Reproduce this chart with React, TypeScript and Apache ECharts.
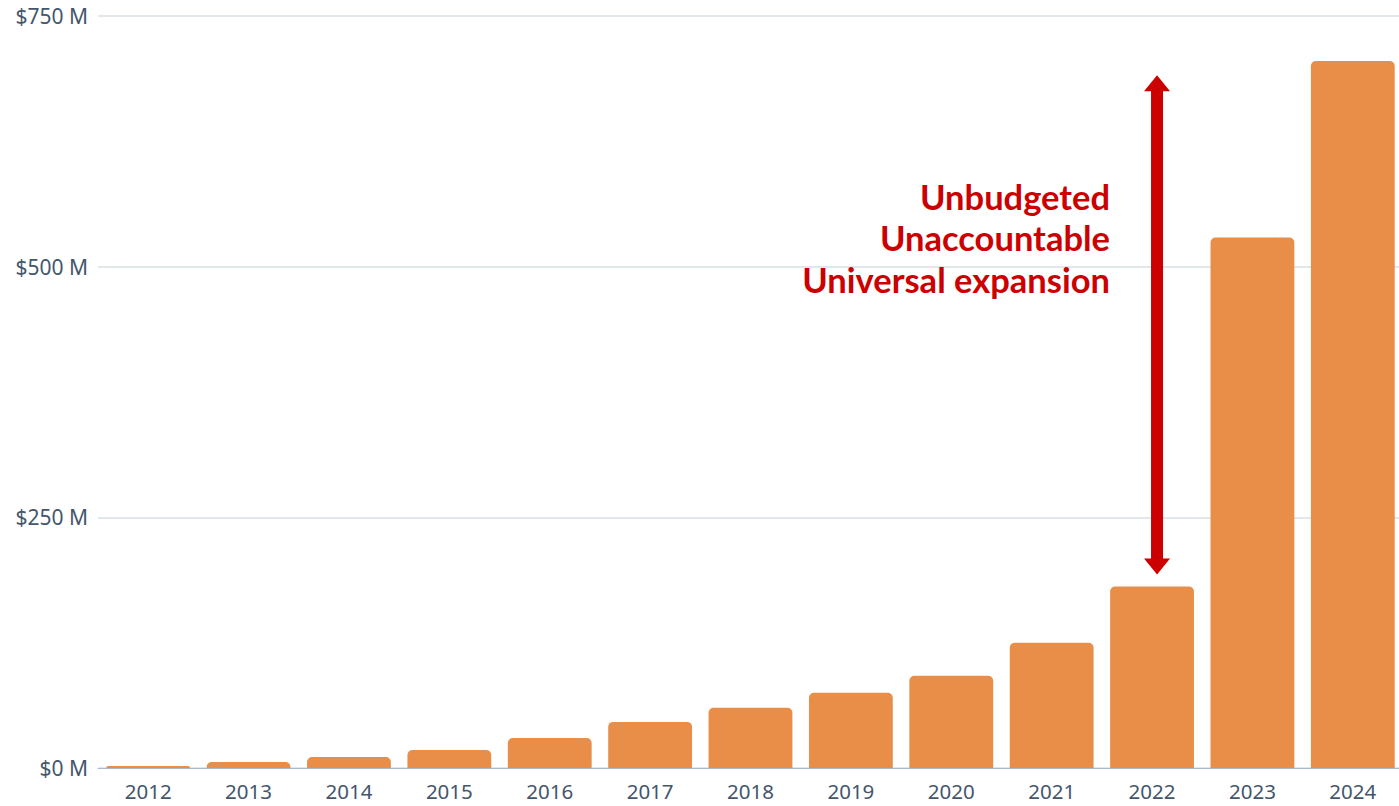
import React, { useEffect, useRef } from "react";
import * as echarts from "echarts";

const years = ["2012", "2013", "2014", "2015", "2016", "2017", "2018", "2019", "2020", "2021", "2022", "2023", "2024"];
const spending = [2, 6, 11, 18, 30, 46, 60, 75, 92, 125, 181, 529, 705];
const yTicks = [0, 250, 500, 750];
const annotationLines = ["Unbudgeted", "Unaccountable", "Universal expansion"];
const arrowFrom = 193;
const arrowTo = 691;
const arrowYear = "2022";

export default function App() {
  const ref = useRef<HTMLDivElement>(null);
  useEffect(() => {
    if (!ref.current) return;
    const chart = echarts.init(ref.current, null, { renderer: "svg" });
    const option: any = {
      animation: false,
      grid: { left: 98, right: 0, top: 16, bottom: 38, containLabel: false },
      xAxis: {
        type: "category",
        data: years,
        axisLine: { lineStyle: { color: "#a9b9c9", width: 1 } },
        axisTick: { show: false },
        axisLabel: { color: "#44566c", fontSize: 20.5, fontFamily: "Noto Sans", margin: 12 },
      },
      yAxis: {
        type: "value",
        min: 0,
        max: 750,
        interval: 250,
        axisLine: { show: false },
        axisTick: { show: false },
        splitLine: { lineStyle: { color: "#d9dfe5", width: 1.5 } },
        axisLabel: {
          color: "#44566c",
          fontSize: 21,
          fontFamily: "Noto Sans",
          margin: 10,
          formatter: (v: number) => (yTicks.includes(v) ? `$${v} M` : ""),
        },
      },
      series: [
        {
          type: "bar",
          data: spending,
          barWidth: "83.5%",
          itemStyle: { color: "#e88e48", borderRadius: [5, 5, 0, 0] },
        },
      ],
    };
    chart.setOption(option);

    const top = chart.convertToPixel({ gridIndex: 0 }, [arrowYear, arrowTo]) as number[];
    const bot = chart.convertToPixel({ gridIndex: 0 }, [arrowYear, arrowFrom]) as number[];
    const cx = top[0] + 5;
    const yt = top[1];
    const yb = bot[1];
    const hw = 6;
    const headW = 13;
    const headH = 16;
    const right = cx - 47;
    chart.setOption({
      graphic: [
        {
          type: "polygon",
          shape: {
            points: [
              [cx, yt],
              [cx + headW, yt + headH],
              [cx + hw, yt + headH],
              [cx + hw, yb - headH],
              [cx + headW, yb - headH],
              [cx, yb],
              [cx - headW, yb - headH],
              [cx - hw, yb - headH],
              [cx - hw, yt + headH],
              [cx - headW, yt + headH],
            ],
          },
          style: { fill: "#cc0000" },
          z: 100,
        },
        ...annotationLines.map((t, i) => ({
          type: "text",
          x: right,
          y: 196 + i * 41.5,
          style: {
            text: t,
            fill: "#cc0000",
            font: "bold 34.5px Lato",
            align: "right",
            verticalAlign: "middle",
          },
          z: 100,
        })),
      ],
    });

    return () => chart.dispose();
  }, []);
  return (
    <div
      ref={ref}
      style={{ position: "fixed", left: 0, top: 0, width: 1403, height: 806, background: "#fff" }}
    />
  );
}
